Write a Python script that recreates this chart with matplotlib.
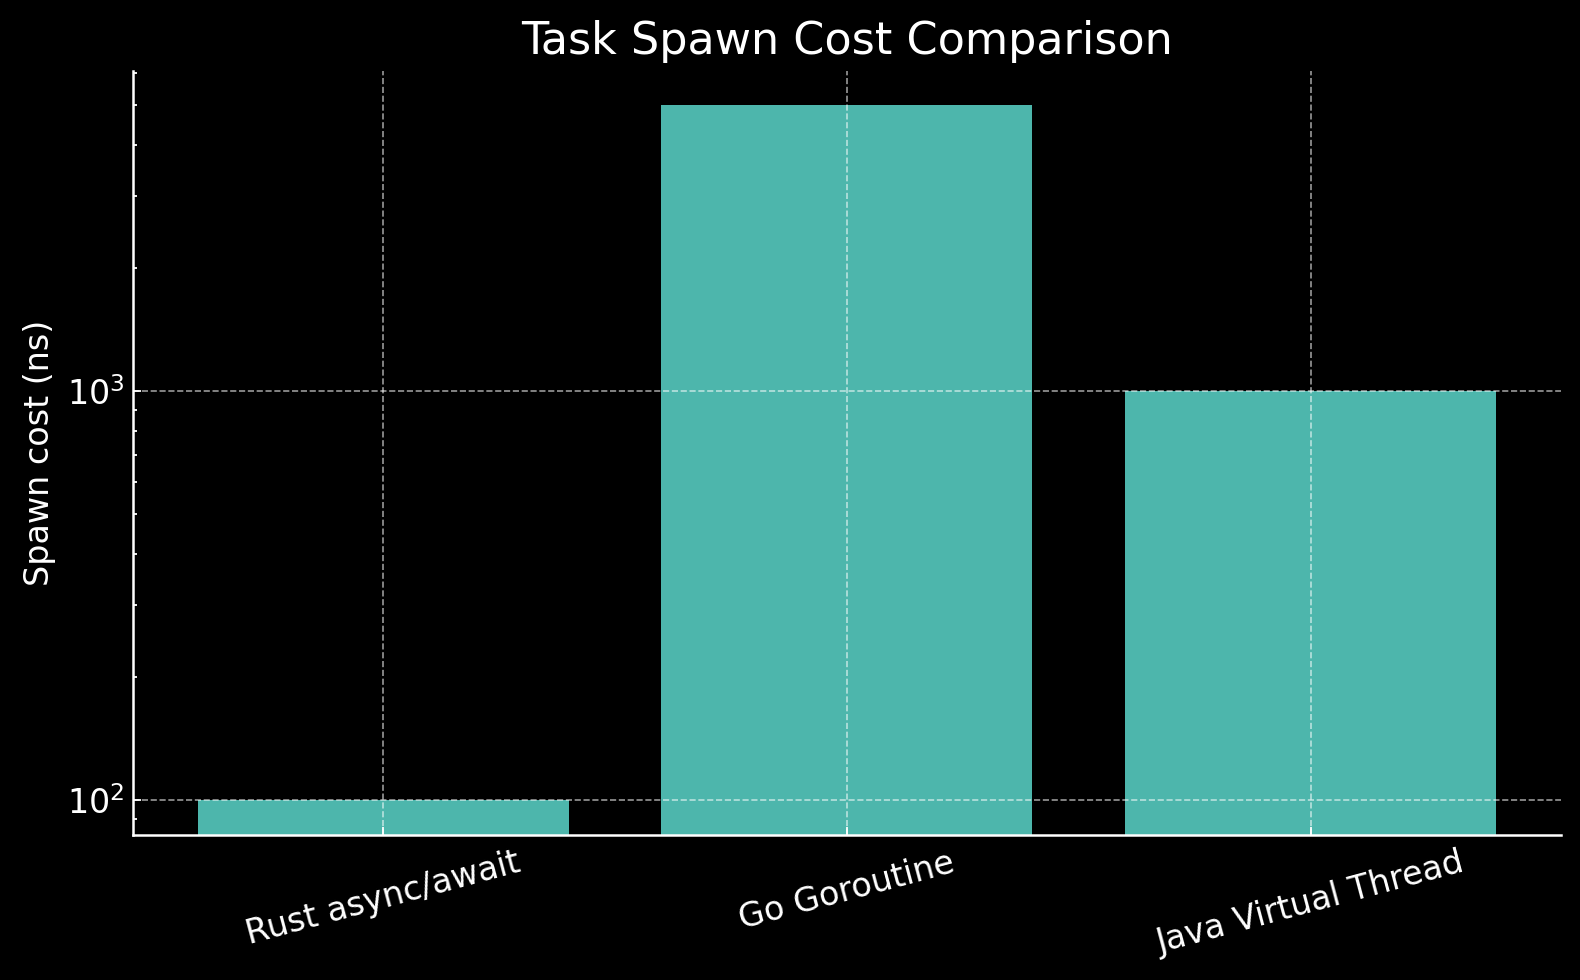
import matplotlib
matplotlib.use("Agg")
import matplotlib.pyplot as plt

categories = ["Rust async/await", "Go Goroutine", "Java Virtual Thread"]
spawn_cost_ns = [100, 5000, 1000]

plt.style.use("dark_background")
fig, ax = plt.subplots(figsize=(15.8, 9.8), dpi=100)
ax.bar(categories, spawn_cost_ns, color="#4DB6AC", width=0.8)
ax.set_yscale("log")
ax.set_title("Task Spawn Cost Comparison", fontsize=32, pad=12)
ax.set_ylabel("Spawn cost (ns)", fontsize=24, labelpad=8)
ax.tick_params(axis="both", which="both", direction="in", labelsize=24, width=1.3, pad=6)
ax.tick_params(axis="both", which="major", length=5.5)
ax.tick_params(axis="both", which="minor", length=3.2)
ax.tick_params(axis="x", labelrotation=15, pad=8)
ax.grid(True, which="major", linestyle="--", linewidth=1.2, alpha=0.6)
ax.spines["top"].set_visible(False)
ax.spines["right"].set_visible(False)
ax.spines["left"].set_linewidth(1.8)
ax.spines["bottom"].set_linewidth(1.8)
fig.subplots_adjust(left=0.084, right=0.988, top=0.928, bottom=0.148)
fig.savefig("out.png", dpi=100, facecolor="black")
